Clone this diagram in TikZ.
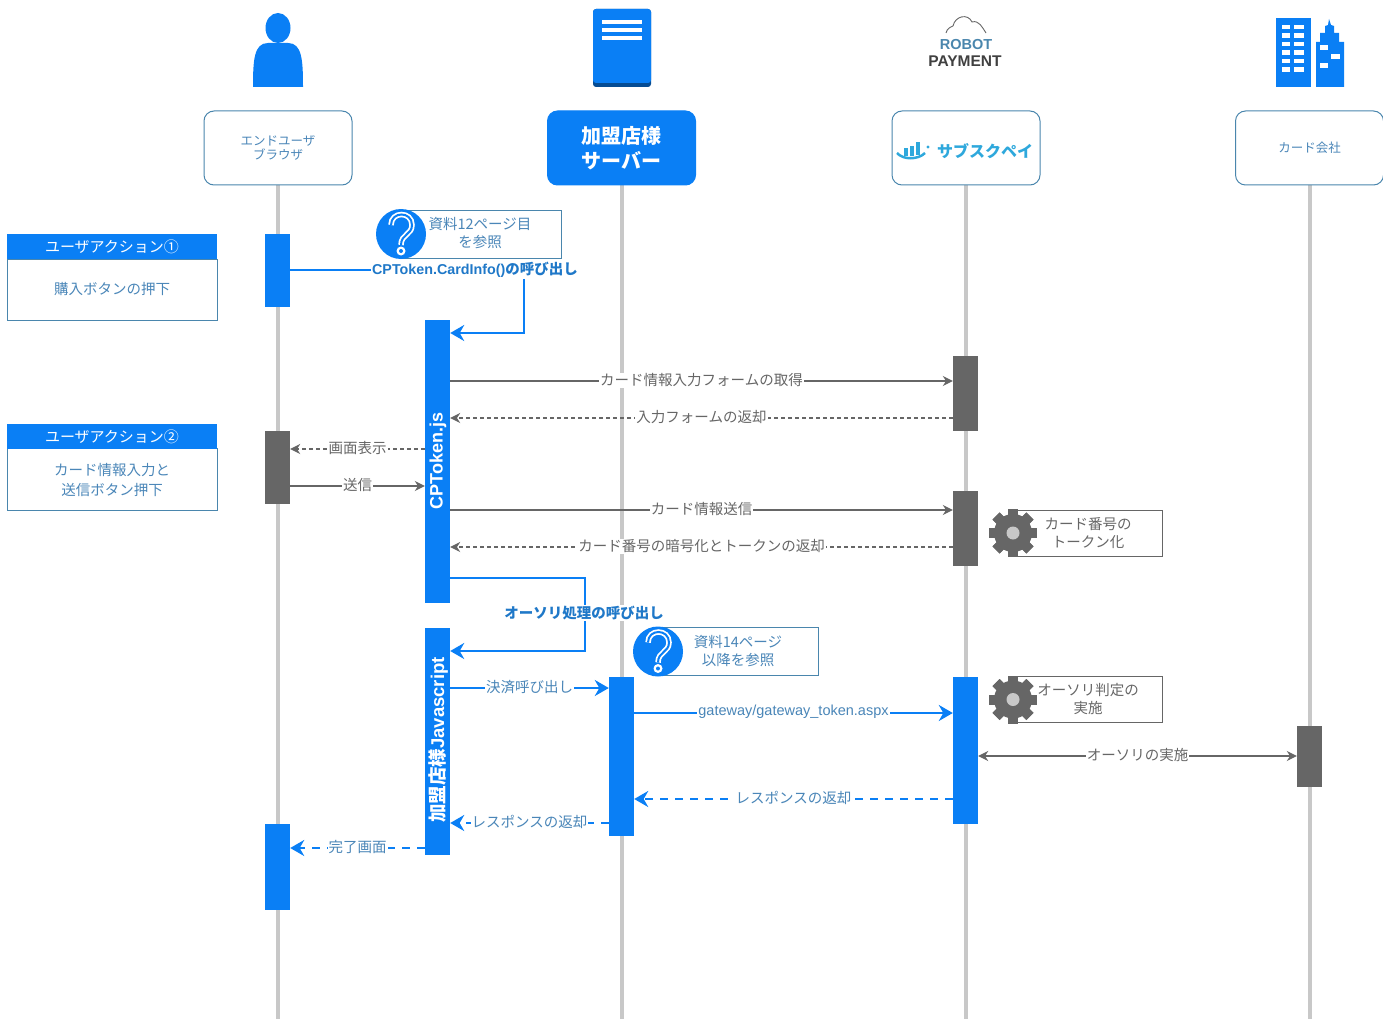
\documentclass[tikz,border=0pt]{standalone}
\usepackage{fontspec}
\usetikzlibrary{arrows.meta}
\newfontfamily\jp{Noto Sans CJK JP}
\newfontfamily\arial{Liberation Sans}
\definecolor{mainblue}{HTML}{0A7FF5}
\definecolor{edgeblue}{HTML}{4A86AD}
\definecolor{textblue}{HTML}{4A86B8}
\definecolor{boldblue}{HTML}{1F78C8}
\definecolor{darkgray}{HTML}{666666}
\definecolor{lifegray}{HTML}{C8C8C8}
\definecolor{subslogo}{HTML}{2EA8DC}
\tikzset{
  headbox/.style={draw=edgeblue, line width=1pt, fill=white, rounded corners=10pt, minimum width=148, minimum height=74, inner sep=0pt, align=center, font=\jp\fontsize{12.5}{14.5}\selectfont, text=textblue},
  bluebar/.style={fill=mainblue, minimum width=25, inner sep=0pt},
  graybar/.style={fill=darkgray, minimum width=25, inner sep=0pt},
  actionhead/.style={fill=mainblue, minimum width=210, minimum height=25, inner sep=0pt, text=white, font=\jp\fontsize{15}{18}\selectfont},
  actionbody/.style={draw=edgeblue, line width=1pt, minimum width=210, inner sep=0pt, align=center, text=textblue, font=\jp\fontsize{14.5}{20}\selectfont},
  notebox/.style={draw=edgeblue, line width=1pt, fill=white, inner sep=0pt},
  notetext/.style={inner sep=0pt, align=center, text=textblue, font=\jp\fontsize{14.5}{18.5}\selectfont},
  graynote/.style={notetext, text=darkgray},
  msg/.style={fill=white, inner sep=1pt, yshift=.8pt, font=\jp\fontsize{14.5}{18}\selectfont},
  graymsg/.style={msg, text=darkgray},
  bluemsg/.style={msg, text=textblue},
  boldmsg/.style={msg, text=boldblue, font=\jp\bfseries\fontsize{14.5}{18}\selectfont},
  grayline/.style={darkgray, line width=1.2pt, -{Stealth[length=10pt,width=10pt]}},
  graydash/.style={grayline, dash pattern=on 4pt off 3pt},
  blueline/.style={mainblue, line width=2.4pt, -{Stealth[length=14pt,width=16pt]}},
  bluedash/.style={blueline, dash pattern=on 8pt off 7pt},
  gearicon/.pic={
    \foreach \a in {0,45,...,315}
      \fill[darkgray, rotate=\a] (-5,-24) rectangle (5,24);
    \fill[darkgray] (0,0) circle (19);
    \fill[lifegray] (0,0) circle (6.5);
  },
  qicon/.pic={
    \fill[mainblue] (0,0) circle (25);
    \draw[white, line width=5.5pt] (-10,-9) .. controls (-10,-23) and (11,-23) .. (11,-9) .. controls (11,1) and (0,0) .. (0,11);
    \fill[white] (0,17) circle (4.5);
    \draw[mainblue, line width=2pt] (-10,-9) .. controls (-10,-23) and (11,-23) .. (11,-9) .. controls (11,1) and (0,0) .. (0,11);
    \fill[mainblue] (0,17) circle (2);
  },
}
\begin{document}
\begin{tikzpicture}[x=1pt,y=-1pt]
  \useasboundingbox (0,0) rectangle (1383,1019);

  % lifelines
  \foreach \x in {278,622,966,1310}
    \draw[lifegray, line width=4pt] (\x,185) -- (\x,1019);

  % heads
  \node[headbox] (user) at (278,148) {エンドユーザ\\ブラウザ};
  \node[headbox, fill=mainblue, draw=mainblue, text=white, font=\jp\bfseries\fontsize{20}{25}\selectfont] (shop) at (621.5,148) {加盟店様\\サーバー};
  \node[headbox] (subs) at (966,148) {};
  \node[headbox] (card) at (1309.5,148) {カード会社};

  % person icon
  \fill[mainblue] (278,28) ellipse (12.5 and 15);
  \fill[mainblue] (253,87) .. controls (253,60) and (254,43) .. (268,43) -- (288,43) .. controls (302,43) and (303,60) .. (303,87) -- cycle;

  % server icon
  \fill[mainblue!60!black, rounded corners=3pt] (593,9) rectangle (651,87);
  \fill[mainblue, rounded corners=3pt] (593,9) rectangle (651,83);
  \foreach \y in {22,30,38}
    \draw[white, line width=3.5pt] (602,\y) -- (642,\y);

  % logo
  \draw[darkgray, line width=.9pt] (946,33) .. controls (947,28) and (951,27) .. (953,26) .. controls (955,16) and (968,13) .. (972,22) .. controls (979,20) and (982,27) .. (986,33);
  \node[inner sep=0pt, text=edgeblue, font=\arial\bfseries\fontsize{14.5}{15.5}\selectfont] (robot) at (966,45) {ROBOT};
  \node[inner sep=0pt, text=black!75, font=\arial\bfseries\fontsize{15.5}{16.5}\selectfont] (payment) at (965,61.5) {PAYMENT};

  % building icon
  \fill[mainblue] (1276,18) rectangle (1311,87);
  \foreach \y in {25,33.5,42,50.5,59,67.5} {
    \fill[white] (1282,\y) rectangle (1290,\y+4.5);
    \fill[white] (1294,\y) rectangle (1304,\y+4.5);
  }
  \fill[mainblue] (1316,87) -- (1316,42) -- (1320,42) -- (1320,33) -- (1325,33) -- (1325,26) -- (1328,25) -- (1329,19) -- (1331,25) -- (1334,26) -- (1334,33) -- (1339,33) -- (1339,42) -- (1344,42) -- (1344,87) -- cycle;
  \fill[white] (1320,45) rectangle (1328,50);
  \fill[white] (1331,54) rectangle (1340,59);
  \fill[white] (1320,63) rectangle (1328,68);

  % subscription logo
  \draw[subslogo, line width=2.5pt] (897,153) .. controls (903,160) and (918,160) .. (925,153);
  \fill[subslogo] (904,148) rectangle (907.5,156);
  \fill[subslogo] (910,146) rectangle (913.5,156);
  \fill[subslogo] (916,142) rectangle (919.5,155);
  \fill[subslogo] (928,147) circle (1.7);
  \node[inner sep=0pt, text=subslogo, font=\jp\bfseries\fontsize{16}{20}\selectfont] (subsname) at (985,151) {サブスクペイ};

  % action notes
  \node[actionbody, minimum height=61] (act1) at (112,289.5) {\raisebox{1.5pt}{購入ボタンの押下}};
  \node[actionhead] (acthead1) at (112,246.5) {ユーザアクション①};
  \node[actionbody, minimum height=62] (act2) at (112,479.5) {カード情報入力と\\送信ボタン押下};
  \node[actionhead] (acthead2) at (112,436.5) {ユーザアクション②};

  % activation bars
  \node[bluebar, minimum height=73] (u1) at (277.5,270.5) {};
  \node[graybar, minimum height=73] (u2) at (277.5,467.5) {};
  \node[bluebar, minimum height=86] (u3) at (277.5,867) {};
  \node[bluebar, minimum height=283] (js) at (437.5,461.5) {};
  \node[bluebar, minimum height=227] (mjs) at (437.5,741.5) {};
  \node[bluebar, minimum height=159] (srv) at (621.5,756.5) {};
  \node[graybar, minimum height=75] (rp1) at (965.5,393.5) {};
  \node[graybar, minimum height=75] (rp2) at (965.5,528.5) {};
  \node[bluebar, minimum height=147] (rp3) at (965.5,750.5) {};
  \node[graybar, minimum height=61] (cd1) at (1309.5,756.5) {};

  \node[rotate=90, inner sep=0pt, text=white, font=\arial\bfseries\fontsize{18}{18}\selectfont] (jsname) at (438,461) {CPToken.js};
  \node[rotate=90, inner sep=0pt, text=white, font=\jp\bfseries\fontsize{18.5}{18.5}\selectfont] (mjsname) at (438,740) {加盟店様{\arial\bfseries Javascript}};

  % rows of the messages
  \coordinate (r1) at (0,270);
  \coordinate (r2) at (0,333);
  \coordinate (r3) at (0,381);
  \coordinate (r4) at (0,418);
  \coordinate (r5) at (0,449);
  \coordinate (r6) at (0,486);
  \coordinate (r7) at (0,510);
  \coordinate (r8) at (0,547);
  \coordinate (r9) at (0,578);
  \coordinate (r10) at (0,651);
  \coordinate (r11) at (0,688);
  \coordinate (r12) at (0,713);
  \coordinate (r13) at (0,756);
  \coordinate (r14) at (0,799);
  \coordinate (r15) at (0,823);
  \coordinate (r16) at (0,848);
  \coordinate (c1) at (524,0);
  \coordinate (c2) at (585,0);

  % notes with icons
  \node[notebox, minimum width=160, minimum height=48] (n1) at (481,234) {};
  \pic (q1) at (401,234) {qicon};
  \node[notetext] (n1text) at (480,233) {資料12ページ目\\を参照};
  \node[notebox, minimum width=160, minimum height=48] (n2) at (738.5,651.5) {};
  \pic (q2) at (658,651.5) {qicon};
  \node[notetext] (n2text) at (738,651) {資料14ページ\\以降を参照};
  \node[notebox, draw=darkgray, minimum width=149, minimum height=46] (n3) at (1087.5,533) {};
  \pic (g1) at (1013,533) {gearicon};
  \node[graynote] (n3text) at (1088,533) {カード番号の\\トークン化};
  \node[notebox, draw=darkgray, minimum width=149, minimum height=46] (n4) at (1087.5,699.5) {};
  \pic (g2) at (1013,699.5) {gearicon};
  \node[graynote] (n4text) at (1088,699) {オーソリ判定の\\実施};

  % messages
  \draw[blueline] (u1.east |- r1) -- (c1 |- r1) -- (c1 |- r2) -- (js.east |- r2);
  \node[boldmsg, font=\arial\bfseries\fontsize{14.3}{18}\selectfont] (m1) at (475,271) {CPToken.CardInfo(){\jp\bfseries\fontsize{14.5}{18}\selectfont の呼び出し}};
  \draw[grayline] (js.east |- r3) -- (rp1.west |- r3) node[graymsg, midway] (m2) {カード情報入力フォームの取得};
  \draw[graydash] (rp1.west |- r4) -- (js.east |- r4) node[graymsg, midway] (m3) {入力フォームの返却};
  \draw[graydash] (js.west |- r5) -- (u2.east |- r5) node[graymsg, midway] (m4) {画面表示};
  \draw[grayline] (u2.east |- r6) -- (js.west |- r6) node[graymsg, midway] (m5) {送信};
  \draw[grayline] (js.east |- r7) -- (rp2.west |- r7) node[graymsg, midway] (m6) {カード情報送信};
  \draw[graydash] (rp2.west |- r8) -- (js.east |- r8) node[graymsg, midway] (m7) {カード番号の暗号化とトークンの返却};
  \draw[blueline] (js.east |- r9) -- (c2 |- r9) -- (c2 |- r10) -- (mjs.east |- r10);
  \node[boldmsg] (m8) at (584,613.5) {オーソリ処理の呼び出し};
  \draw[blueline] (mjs.east |- r11) -- (srv.west |- r11) node[bluemsg, midway] (m9) {決済呼び出し};
  \draw[blueline] (srv.east |- r12) -- (rp3.west |- r12) node[bluemsg, midway, font=\arial\fontsize{14.5}{18}\selectfont] (m10) {gateway/gateway\_token.aspx};
  \draw[darkgray, line width=1.2pt, {Stealth[length=10pt,width=10pt]}-{Stealth[length=10pt,width=10pt]}] (rp3.east |- r13) -- (cd1.west |- r13) node[graymsg, midway] (m11) {オーソリの実施};
  \draw[bluedash] (rp3.west |- r14) -- (srv.east |- r14) node[bluemsg, midway] (m12) {レスポンスの返却};
  \draw[bluedash] (srv.west |- r15) -- (mjs.east |- r15) node[bluemsg, midway] (m13) {レスポンスの返却};
  \draw[bluedash] (mjs.west |- r16) -- (u3.east |- r16) node[bluemsg, midway] (m14) {完了画面};
\end{tikzpicture}
\end{document}
